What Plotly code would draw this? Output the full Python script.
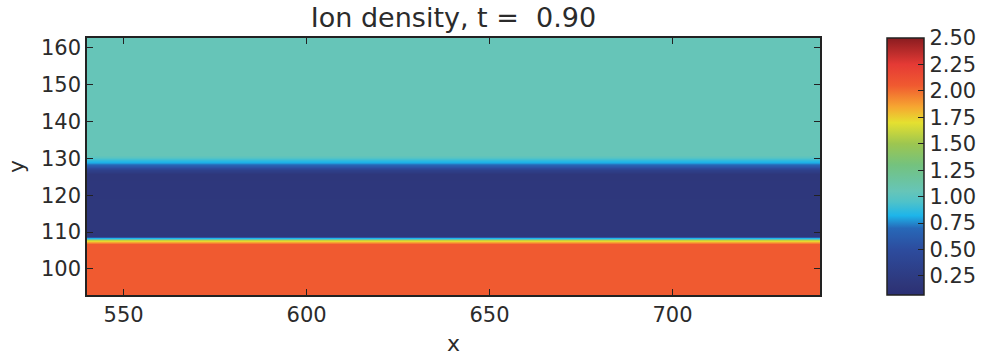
import plotly.graph_objects as go

# Ion density profile across y (uniform along x)
x_edges = [540.0, 740.0]
y_levels = [93.0, 106.8, 107.3, 107.8, 108.2, 108.6, 109.0, 125.8, 126.8,
            127.8, 128.7, 129.6, 130.3, 131.0, 162.7]
density = [2.05, 2.05, 1.85, 1.6, 1.1, 0.55, 0.2, 0.18, 0.32,
           0.55, 0.78, 0.88, 1.0, 1.05, 1.05]

x_ticks = [550, 600, 650, 700]
y_ticks = [100, 110, 120, 130, 140, 150, 160]
cbar_ticks = [0.25, 0.5, 0.75, 1.0, 1.25, 1.5, 1.75, 2.0, 2.25, 2.5]
c_min, c_max = 0.07, 2.5

z = [[d for _ in x_edges] for d in density]

def pos(v):
    return (v - c_min) / (c_max - c_min)

colorscale = [
    [0.0, "#2a2f75"],
    [pos(0.15), "#2e3578"],
    [pos(0.5), "#2d4c9e"],
    [pos(0.7), "#2768b8"],
    [pos(0.82), "#1db5ea"],
    [pos(0.95), "#4fc2c9"],
    [pos(1.05), "#66c5b8"],
    [pos(1.3), "#74c27e"],
    [pos(1.5), "#9dc650"],
    [pos(1.7), "#e5e030"],
    [pos(1.85), "#f6a631"],
    [pos(2.05), "#f05a30"],
    [pos(2.25), "#e53a35"],
    [1.0, "#8a1c20"],
]

font_color = "#2b2b2b"
font_family = "DejaVu Sans, sans-serif"

fig = go.Figure(go.Heatmap(
    x=x_edges, y=y_levels, z=z,
    zsmooth="best",
    zmin=c_min, zmax=c_max,
    colorscale=colorscale,
    colorbar=dict(
        x=(887 - 87) / 733, xanchor="left", xpad=0,
        y=0.5, yanchor="middle", ypad=0,
        len=257, lenmode="pixels",
        thickness=37,
        outlinewidth=1.5, outlinecolor="#222",
        tickvals=cbar_ticks, tickformat=".2f",
        ticks="inside", ticklen=6, tickcolor="#222",
        tickfont=dict(size=21, color=font_color, family=font_family),
    ),
    hoverinfo="skip",
))

axis_common = dict(
    showgrid=False, zeroline=False,
    showline=True, linecolor="#222", linewidth=1.5, mirror="allticks",
    ticks="inside", ticklen=6, tickcolor="#222",
    tickfont=dict(size=21, color=font_color, family=font_family),
)

fig.update_xaxes(range=[540, 740.3], tickvals=x_ticks,
                 title=dict(text="x", font=dict(size=22, color=font_color, family=font_family), standoff=10),
                 **axis_common)
fig.update_yaxes(range=[92.9, 162.7], tickvals=y_ticks,
                 title=dict(text="y", font=dict(size=22, color=font_color, family=font_family), standoff=10),
                 **axis_common)

fig.update_layout(
    width=982, height=357,
    margin=dict(l=87, r=162, t=38, b=62, autoexpand=False),
    paper_bgcolor="white", plot_bgcolor="white",
    title=dict(text="Ion density, t = \u00a00.90", x=(87 + 820) / 2 / 982, xanchor="center",
               y=1 - 18 / 357, yanchor="middle",
               font=dict(size=27, color=font_color, family=font_family)),
)

fig.write_html("out.html")
